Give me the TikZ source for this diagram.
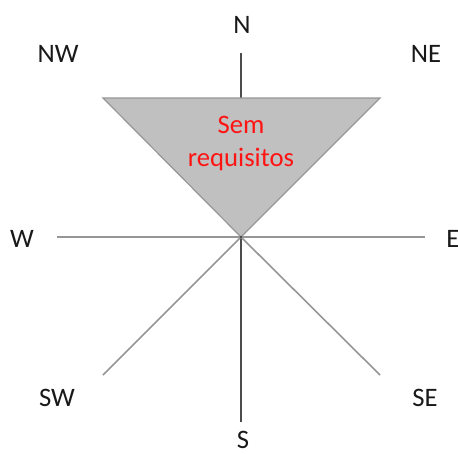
\documentclass[tikz,border=0pt]{standalone}
\usepackage{fontspec}
\setmainfont{Carlito}
\usetikzlibrary{positioning}
\definecolor{axisgray}{RGB}{150,150,150}
\definecolor{zonegray}{RGB}{192,192,192}
\definecolor{labelred}{RGB}{255,20,20}
\tikzset {
  % compass point labels
  dir/.style = {font=\fontsize{20}{24}\selectfont, text=black!90, inner sep=0pt},
  % light axes and the darker north-south one
  axis/.style = {draw=axisgray, line width=1.2pt},
  nsaxis/.style = {draw=black!70, line width=0.9pt},
  % the shaded zone
  zone/.style = {fill=zonegray, draw=axisgray, line width=0.9pt},
  zonetext/.style = {font=\fontsize{20}{24.75}\selectfont, text=labelred, align=center},
}

\begin{document}
\begin{tikzpicture}[x=0.75pt, y=-0.75pt]
  \useasboundingbox (0,0) rectangle (458,454);

  \coordinate (o) at (241,237);
  \coordinate (n) at (241,53);
  \coordinate (s) at (241,422);
  \coordinate (w) at (57,237);
  \coordinate (e) at (425,237);
  \coordinate (sw) at (103,375);
  \coordinate (se) at (380,375);
  \coordinate (zl) at (103,98);
  \coordinate (zr) at (380,98);

  \draw [nsaxis] (n) -- (s);
  \draw [axis] (w) -- (e);
  \draw [axis] (o) -- (sw);
  \draw [axis] (o) -- (se);

  \draw [zone] (zl) -- (zr) -- (o) -- cycle;
  \fill [black!80] (o) circle (1.2);

  \node [zonetext] (req) at (241,143) {Sem\\requisitos};

  \node [dir] (lN) at (242,25) {N};
  \node [dir] (lNW) at (58,54) {NW};
  \node [dir] (lNE) at (426,54) {NE};
  \node [dir] (lW) at (22,239) {W};
  \node [dir] (lE) at (453,239) {E};
  \node [dir] (lSW) at (57,398) {SW};
  \node [dir] (lSE) at (425,398) {SE};
  \node [dir] (lS) at (243,440) {S};
\end{tikzpicture}
\end{document}
